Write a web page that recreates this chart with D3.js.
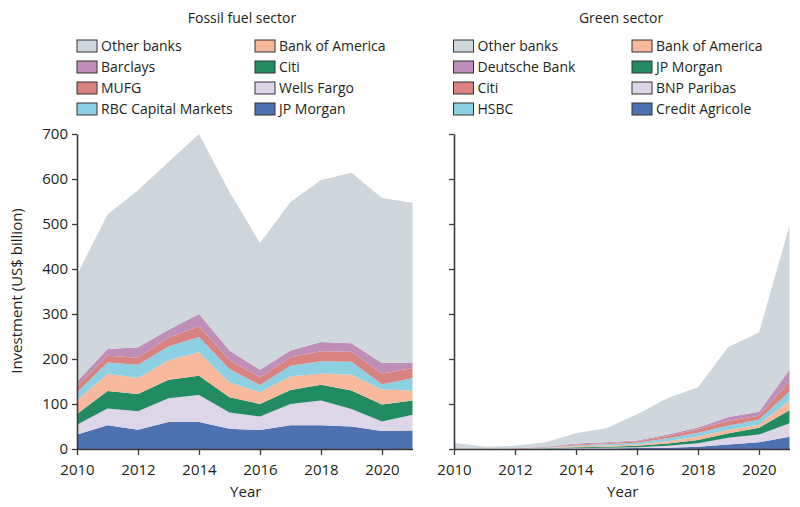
<!DOCTYPE html>
<html>
<head>
<meta charset="utf-8">
<script src="https://cdn.jsdelivr.net/npm/d3@7"></script>
<style>
  body { margin: 0; background: #fff; }
  svg { display: block; }
  text { font-family: "Open Sans", "Noto Sans", sans-serif; fill: #231f20; }
</style>
</head>
<body>
<svg id="chart" width="800" height="507"></svg>
<script>
const years = [2010, 2011, 2012, 2013, 2014, 2015, 2016, 2017, 2018, 2019, 2020, 2021];
const yTicks = [0, 100, 200, 300, 400, 500, 600, 700];
const xTicks = [2010, 2012, 2014, 2016, 2018, 2020];

// Fossil fuel sector (bottom to top)
const fossilKeys = ["JP Morgan", "Wells Fargo", "Citi", "Bank of America", "RBC Capital Markets", "MUFG", "Barclays", "Other banks"];
const fossilJPMorgan   = [32, 53, 43, 60, 60, 45, 42, 53, 53, 50, 40, 41];
const fossilWellsFargo = [22, 37, 41, 53, 60, 36, 30, 47, 55, 39, 21, 35];
const fossilCiti       = [24, 39, 38, 41, 43, 34, 28, 31, 35, 41, 38, 32];
const fossilBofA       = [30, 38, 36, 43, 52, 33, 26, 30, 25, 35, 33, 22];
const fossilRBC        = [18, 25, 29, 31, 34, 30, 16, 24, 27, 29, 12, 27];
const fossilMUFG       = [13, 15, 16, 19, 24, 20, 17, 19, 22, 22, 23, 23];
const fossilBarclays   = [11, 15, 23, 18, 27, 21, 17, 15, 21, 19, 24, 12];
const fossilOther      = [237, 299, 349, 373, 400, 352, 282, 330, 360, 379, 367, 355];

// Green sector (bottom to top)
const greenKeys = ["Credit Agricole", "BNP Paribas", "JP Morgan", "Bank of America", "HSBC", "Citi", "Deutsche Bank", "Other banks"];
const greenCA       = [0, 0, 0, 0.5, 1, 1, 2, 3, 5, 10, 15, 27];
const greenBNP      = [0, 0, 0, 0.5, 1, 2, 2, 4, 8, 15, 17, 30];
const greenJPMorgan = [0, 0, 0, 0.5, 2, 2, 3, 5, 7, 10, 15, 29];
const greenBofA     = [0, 0, 0.3, 0.7, 2, 3, 3, 5, 8, 8, 7, 21];
const greenHSBC     = [0, 0, 0.3, 1, 2, 3, 4, 7, 8, 9, 11, 21];
const greenCiti     = [0, 0, 0.4, 1, 2, 2, 3, 5, 8, 11, 9, 22];
const greenDB       = [0, 0, 0.5, 1, 2, 2, 2, 3, 4, 8, 9, 26];
const greenOther    = [14, 5, 5.5, 10, 23, 31, 58, 81, 89, 156, 176, 320];

const fossilColors = {
  "Other banks": "#cfd6dc", "Barclays": "#c08fb9", "MUFG": "#d98380", "RBC Capital Markets": "#8dd0e4",
  "Bank of America": "#f8b89b", "Citi": "#238b62", "Wells Fargo": "#ddd5e8", "JP Morgan": "#4d71b1"
};
const greenColors = {
  "Other banks": "#cfd6dc", "Deutsche Bank": "#c08fb9", "Citi": "#d98380", "HSBC": "#8dd0e4",
  "Bank of America": "#f8b89b", "JP Morgan": "#238b62", "BNP Paribas": "#ddd5e8", "Credit Agricole": "#4d71b1"
};

const fossilSeries = [fossilJPMorgan, fossilWellsFargo, fossilCiti, fossilBofA, fossilRBC, fossilMUFG, fossilBarclays, fossilOther];
const greenSeries = [greenCA, greenBNP, greenJPMorgan, greenBofA, greenHSBC, greenCiti, greenDB, greenOther];

const fossilLegend = [["Other banks", "Bank of America"], ["Barclays", "Citi"], ["MUFG", "Wells Fargo"], ["RBC Capital Markets", "JP Morgan"]];
const greenLegend = [["Other banks", "Bank of America"], ["Deutsche Bank", "JP Morgan"], ["Citi", "BNP Paribas"], ["HSBC", "Credit Agricole"]];

function buildRows(keys, series) {
  return years.map((yr, i) => {
    const row = { year: yr };
    keys.forEach((k, j) => row[k] = series[j][i]);
    return row;
  });
}

const svg = d3.select("#chart");
const y = d3.scaleLinear().domain([0, 700]).range([449, 134]);

function panel(opts) {
  const x = d3.scaleLinear().domain([2010, 2021]).range([opts.x0, opts.x1]);
  const rows = buildRows(opts.keys, opts.series);
  const stacked = d3.stack().keys(opts.keys)(rows);
  const area = d3.area()
    .x(d => x(d.data.year))
    .y0(d => y(d[0]))
    .y1(d => y(d[1]));
  const g = svg.append("g");
  g.selectAll("path.layer").data(stacked).join("path")
    .attr("class", "layer")
    .attr("d", area)
    .attr("fill", d => opts.colors[d.key]);

  // Axes
  const yAxis = d3.axisLeft(y).tickValues(yTicks).tickSize(5).tickSizeOuter(0);
  if (!opts.yLabels) yAxis.tickFormat("");
  const ya = g.append("g").attr("transform", `translate(${opts.x0},0)`).call(yAxis);
  const xAxis = d3.axisBottom(x).tickValues(xTicks).tickFormat(d3.format("d")).tickSize(6).tickSizeOuter(0);
  const xa = g.append("g").attr("transform", `translate(0,449)`).call(xAxis);
  [ya, xa].forEach(a => {
    a.select(".domain").attr("stroke", "#3a3a3a").attr("stroke-width", 1.6);
    a.selectAll(".tick line").attr("stroke", "#3a3a3a").attr("stroke-width", 1.3);
    a.selectAll(".tick text").attr("font-size", 15).attr("font-family", "'Open Sans', sans-serif").attr("fill", "#231f20");
  });
  ya.selectAll(".tick text").attr("x", -9).attr("dy", "0.3em");
  xa.selectAll(".tick text").attr("y", 15);

  g.append("text").attr("x", (opts.x0 + opts.x1) / 2 + 1).attr("y", 497)
    .attr("text-anchor", "middle").attr("font-size", 15).text("Year");

  // Title
  g.append("text").attr("x", opts.titleX).attr("y", 23)
    .attr("text-anchor", "middle").attr("font-size", 14).text(opts.title);

  // Legend
  const rowsY = [46, 67, 88, 109];
  opts.legend.forEach((pair, r) => {
    pair.forEach((name, c) => {
      const sx = opts.legendX[c];
      g.append("rect").attr("x", sx).attr("y", rowsY[r] - 6).attr("width", 20).attr("height", 12)
        .attr("fill", opts.colors[name]).attr("stroke", "#333").attr("stroke-width", 1);
      g.append("text").attr("x", sx + 24).attr("y", rowsY[r] + 5)
        .attr("font-size", 14).text(name);
    });
  });
}

panel({
  x0: 77, x1: 412.5, keys: fossilKeys, series: fossilSeries, colors: fossilColors,
  yLabels: true, title: "Fossil fuel sector", titleX: 242, legend: fossilLegend, legendX: [77, 255]
});
panel({
  x0: 454, x1: 789.5, keys: greenKeys, series: greenSeries, colors: greenColors,
  yLabels: false, title: "Green sector", titleX: 621, legend: greenLegend, legendX: [453.5, 632]
});

svg.append("text").attr("transform", "translate(22,291) rotate(-90)")
  .attr("text-anchor", "middle").attr("font-size", 15).text("Investment (US$ billion)");
</script>
</body>
</html>
